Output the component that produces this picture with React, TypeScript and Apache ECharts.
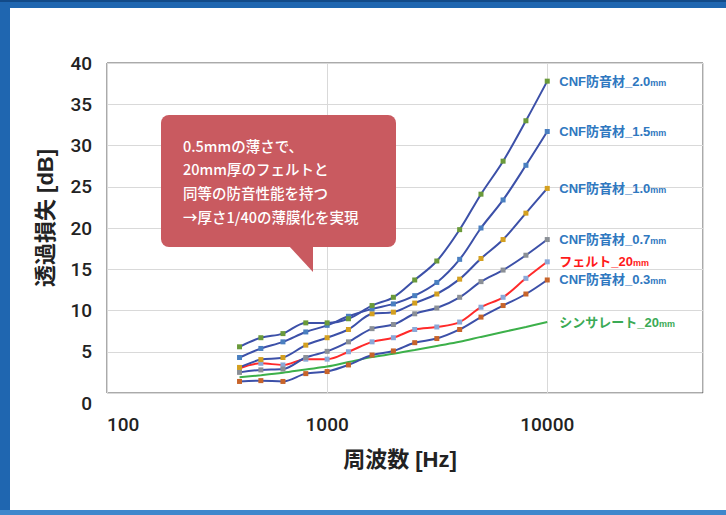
import React, { useEffect, useRef } from "react";
import * as echarts from "echarts";

const FREQ = [400, 500, 630, 800, 1000, 1250, 1600, 2000, 2500, 3150, 4000, 5000, 6300, 8000, 10000];
const CNF_20 = [5.6, 6.7, 7.2, 8.5, 8.5, 9.0, 10.6, 11.6, 13.7, 16.0, 19.8, 24.1, 28.1, 33.0, 37.8];
const CNF_15 = [4.3, 5.4, 6.2, 7.4, 8.2, 9.3, 10.2, 10.8, 11.8, 13.4, 16.2, 20.0, 23.4, 27.6, 31.7];
const CNF_10 = [3.1, 4.05, 4.3, 5.8, 6.7, 7.7, 9.6, 9.8, 10.9, 12.0, 13.8, 16.3, 18.6, 21.8, 24.8];
const CNF_07 = [2.5, 2.8, 2.9, 4.3, 5.05, 6.2, 7.8, 8.3, 9.6, 10.3, 11.6, 13.5, 14.9, 16.7, 18.6];
const FELT_20 = [3.0, 3.6, 3.4, 4.1, 4.1, 5.0, 6.2, 6.7, 7.7, 8.0, 8.6, 10.4, 11.6, 13.9, 15.9];
const CNF_03 = [1.4, 1.5, 1.4, 2.35, 2.6, 3.4, 4.6, 5.1, 6.1, 6.6, 7.7, 9.2, 10.6, 12.0, 13.7];
const THINSULATE_20 = [1.9, 2.15, 2.45, 2.85, 3.2, 3.75, 4.35, 4.75, 5.2, 5.7, 6.2, 6.8, 7.4, 8.0, 8.6];

const X_TICKS = [100, 1000, 10000];
const Y_TICKS = [0, 5, 10, 15, 20, 25, 30, 35, 40];

const CALLOUT_LINES = [
  "0.5mmの薄さで、",
  "20mm厚のフェルトと",
  "同等の防音性能を持つ",
  "→厚さ1/40の薄膜化を実現",
];

const LINE_BLUE = "#3c50a8";
const LABEL_BLUE = "#2f78c0";
const NUM_FONT = "Roboto, 'Liberation Sans', 'Noto Sans CJK JP', sans-serif";
const JP_FONT = "'Liberation Sans', 'Noto Sans CJK JP', sans-serif";
const CJK_FONT = "'Noto Sans CJK JP', sans-serif";

function mkSeries(
  name: string,
  values: number[],
  lineColor: string,
  markerColor: string | null,
  mainText: string,
  labelColor: string
) {
  return {
    name,
    type: "line",
    data: FREQ.map((f, i) => [f, values[i]]),
    smooth: 0.35,
    showSymbol: markerColor !== null,
    symbol: "rect",
    symbolSize: 5,
    itemStyle: { color: markerColor ?? lineColor },
    lineStyle: { color: lineColor, width: 2 },
    emphasis: { disabled: true },
    endLabel: {
      show: true,
      distance: 12,
      formatter: `{a|${mainText}}{b|mm}`,
      rich: {
        a: { fontSize: 13, fontWeight: "bold", color: labelColor, fontFamily: JP_FONT },
        b: { fontSize: 9, fontWeight: "bold", color: labelColor, fontFamily: JP_FONT, padding: [3, 0, 0, 0] },
      },
    },
  };
}

export default function App() {
  const ref = useRef<HTMLDivElement>(null);
  useEffect(() => {
    if (!ref.current) return;
    const chart = echarts.init(ref.current, undefined, { renderer: "svg" });
    const option: any = {
      animation: false,
      backgroundColor: "#ffffff",
      grid: {
        left: 107,
        top: 63,
        width: 596,
        height: 330,
        show: true,
        borderColor: "#555555",
        borderWidth: 1,
        backgroundColor: "transparent",
      },
      xAxis: {
        type: "log",
        logBase: 10,
        min: 100,
        max: 51000,
        axisLine: { show: false },
        axisTick: { show: false },
        splitLine: { show: true, lineStyle: { color: "#d9d9d9", width: 1 } },
        axisLabel: {
          formatter: (v: number) => {
            const r = Math.round(v);
            return X_TICKS.includes(r) ? String(r) : "";
          },
          showMaxLabel: false,
          alignMinLabel: "left",
          margin: 22,
          fontSize: 19,
          fontWeight: 500,
          color: "#222222",
          fontFamily: NUM_FONT,
        },
      },
      yAxis: {
        type: "value",
        min: Y_TICKS[0],
        max: Y_TICKS[Y_TICKS.length - 1],
        interval: 5,
        axisLine: { show: false },
        axisTick: { show: false },
        splitLine: { show: true, lineStyle: { color: "#d9d9d9", width: 1 } },
        axisLabel: {
          formatter: (v: number) => (v === 0 ? "" : String(v)),
          margin: 15,
          fontSize: 19,
          fontWeight: 500,
          color: "#222222",
          fontFamily: NUM_FONT,
        },
      },
      series: [
        mkSeries("シンサレート_20mm", THINSULATE_20, "#3cb04a", null, "シンサレート_20", "#3aaa55"),
        mkSeries("CNF防音材_0.3mm", CNF_03, LINE_BLUE, "#c8642a", "CNF防音材_0.3", LABEL_BLUE),
        mkSeries("フェルト_20mm", FELT_20, "#ff2a2a", "#8aa8d8", "フェルト_20", "#ff1a1a"),
        mkSeries("CNF防音材_0.7mm", CNF_07, LINE_BLUE, "#8a8f96", "CNF防音材_0.7", LABEL_BLUE),
        mkSeries("CNF防音材_1.0mm", CNF_10, LINE_BLUE, "#d4a020", "CNF防音材_1.0", LABEL_BLUE),
        mkSeries("CNF防音材_1.5mm", CNF_15, LINE_BLUE, "#4a7fc0", "CNF防音材_1.5", LABEL_BLUE),
        mkSeries("CNF防音材_2.0mm", CNF_20, LINE_BLUE, "#6a9a3a", "CNF防音材_2.0", LABEL_BLUE),
      ],
      graphic: [
        // frame
        { type: "rect", shape: { x: 0, y: 0, width: 10, height: 515 }, style: { fill: "#1f66b0" }, z: 100 },
        { type: "rect", shape: { x: 0, y: 0, width: 726, height: 8 }, style: { fill: "#1f66b0" }, z: 100 },
        { type: "rect", shape: { x: 0, y: 0, width: 726, height: 2 }, style: { fill: "#124a88" }, z: 101 },
        { type: "rect", shape: { x: 0, y: 510, width: 726, height: 5 }, style: { fill: "#3f87cc" }, z: 100 },
        // zero label
        {
          type: "text",
          x: 92,
          y: 403,
          style: {
            text: String(Y_TICKS[0]),
            fontSize: 19,
            fontWeight: 500,
            fill: "#222222",
            fontFamily: NUM_FONT,
            align: "right",
            verticalAlign: "middle",
          },
          z: 100,
        },
        // axis titles
        {
          type: "text",
          x: 45,
          y: 218,
          rotation: Math.PI / 2,
          style: {
            text: "透過損失 [dB]",
            fontSize: 22,
            fontWeight: "bold",
            fill: "#222222",
            fontFamily: JP_FONT,
            align: "center",
            verticalAlign: "middle",
          },
          z: 100,
        },
        {
          type: "text",
          x: 400,
          y: 459,
          style: {
            text: "周波数 [Hz]",
            fontSize: 22,
            fontWeight: "bold",
            fill: "#222222",
            fontFamily: JP_FONT,
            align: "center",
            verticalAlign: "middle",
          },
          z: 100,
        },
        // callout
        {
          type: "rect",
          shape: { x: 161, y: 115, width: 235, height: 132, r: 8 },
          style: { fill: "#c95a60" },
          z: 100,
        },
        {
          type: "polygon",
          shape: { points: [[289, 246], [313, 246], [313, 272]] },
          style: { fill: "#c95a60" },
          z: 100,
        },
        ...CALLOUT_LINES.map((t, i) => ({
          type: "text",
          x: 183,
          y: 145 + i * 23.7,
          style: {
            text: t,
            fontSize: 14.5,
            fontWeight: 500,
            fill: "#ffffff",
            fontFamily: CJK_FONT,
            align: "left",
            verticalAlign: "middle",
          },
          z: 101,
        })),
      ],
    };
    chart.setOption(option);
    return () => chart.dispose();
  }, []);
  return (
    <div
      ref={ref}
      style={{ position: "absolute", left: 0, top: 0, width: 726, height: 515 }}
    />
  );
}
